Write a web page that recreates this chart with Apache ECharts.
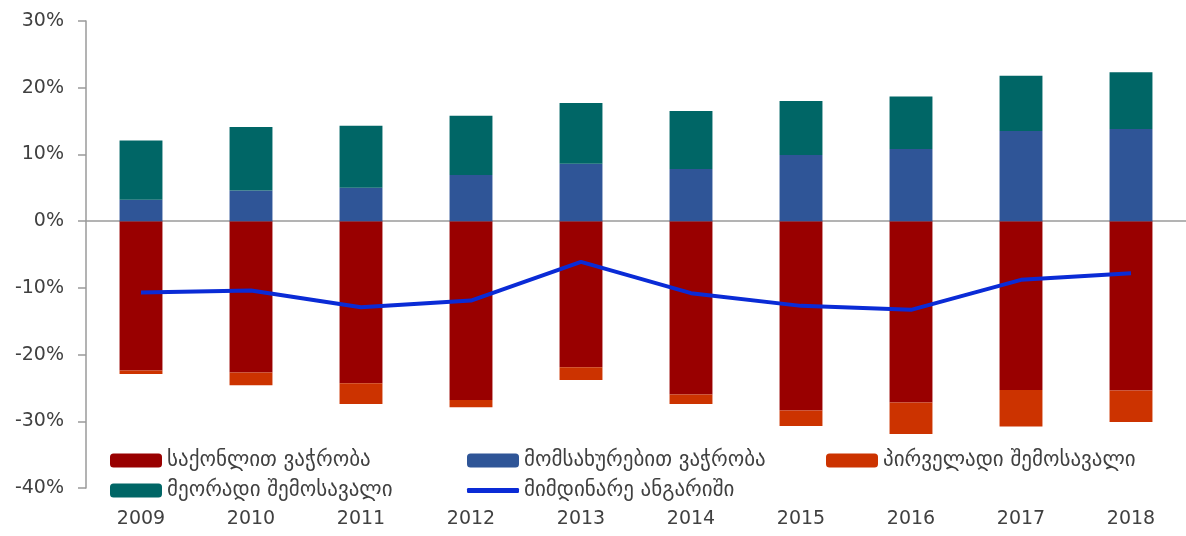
<!DOCTYPE html>
<html>
<head>
<meta charset="utf-8">
<script src="https://cdn.jsdelivr.net/npm/echarts@6/dist/echarts.min.js"></script>
<style>html,body{margin:0;padding:0;background:#fff;}#c{width:1186px;height:536px;}</style>
</head>
<body>
<div id="c"></div>
<script>
const years = ['2009','2010','2011','2012','2013','2014','2015','2016','2017','2018'];
const goods = [-22.4,-22.7,-24.3,-26.8,-21.9,-26.0,-28.4,-27.2,-25.3,-25.4];
const services = [3.2,4.6,5.0,6.9,8.6,7.8,9.9,10.8,13.5,13.8];
const primaryIncome = [-0.5,-1.9,-3.1,-1.1,-1.9,-1.4,-2.3,-4.7,-5.5,-4.7];
const secondaryIncome = [8.9,9.5,9.3,8.9,9.1,8.7,8.1,7.9,8.3,8.5];
const currentAccount = [-10.7,-10.4,-12.9,-11.9,-6.1,-10.8,-12.7,-13.3,-8.8,-7.8];
const names = ['საქონლით ვაჭრობა','მომსახურებით ვაჭრობა','პირველადი შემოსავალი','მეორადი შემოსავალი','მიმდინარე ანგარიში'];

const chart = echarts.init(document.getElementById('c'));
const txt = {color:'#404040', fontFamily:'DejaVu Sans', fontSize:21};
function lg(name, left, top, line){
  return {data:[line ? {name:name, icon:'roundRect'} : name], left:left, top:top,
    itemWidth:52, itemHeight:line ? 5 : 14, itemGap:0,
    textStyle:txt, padding:0, selectedMode:false};
}
const barW = '39%';
chart.setOption({
  animation:false,
  backgroundColor:'#fff',
  grid:{left:86, right:0, top:21, bottom:48},
  legend:[
    lg(names[0],110,450), lg(names[1],467,450), lg(names[2],826,450),
    lg(names[3],110,480), lg(names[4],467,480, true)
  ],
  xAxis:[
    {type:'category', data:years, position:'bottom',
     axisLine:{show:false, onZero:false}, axisTick:{show:false},
     axisLabel:{color:'#404040', fontSize:19, fontFamily:'DejaVu Sans', margin:22}},
    {type:'category', data:years, position:'bottom',
     axisLine:{show:true, onZero:true, lineStyle:{color:'#9a9a9a', width:1.5}},
     axisTick:{show:false}, axisLabel:{show:false}}
  ],
  yAxis:{type:'value', min:-40, max:30, interval:10,
    axisLine:{show:true, lineStyle:{color:'#9a9a9a', width:1.5}},
    axisTick:{show:true, length:8, lineStyle:{color:'#9a9a9a', width:1.5}},
    splitLine:{show:false},
    axisLabel:{formatter:'{value}%', color:'#404040', fontSize:19, fontFamily:'DejaVu Sans', margin:22}},
  series:[
    {name:names[0], type:'bar', stack:'a', data:goods, barWidth:barW, itemStyle:{color:'#990000'}},
    {name:names[1], type:'bar', stack:'a', data:services, barWidth:barW, itemStyle:{color:'#2F5597'}},
    {name:names[2], type:'bar', stack:'a', data:primaryIncome, barWidth:barW, itemStyle:{color:'#CC3300'}},
    {name:names[3], type:'bar', stack:'a', data:secondaryIncome, barWidth:barW, itemStyle:{color:'#006666'}},
    {name:names[4], type:'line', data:currentAccount, symbol:'none', z:5,
     lineStyle:{color:'#0A2BD6', width:4}, itemStyle:{color:'#0A2BD6'}}
  ]
});
</script>
</body>
</html>
